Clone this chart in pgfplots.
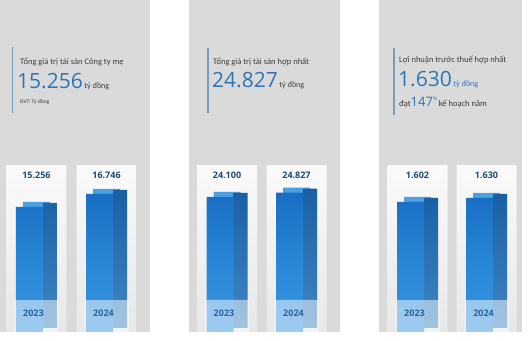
\documentclass[border=0pt]{standalone}
\usepackage{pgfplots}
\usepackage{pgfplotstable}
\pgfplotsset{compat=1.18}
\usepackage{fontspec}
\setmainfont{Open Sans}
\newfontfamily\cf{Carlito}
\definecolor{panel}{RGB}{218,218,218}
\definecolor{numblue}{RGB}{46,117,182}
\definecolor{titlegray}{RGB}{60,60,60}
\definecolor{vline}{RGB}{120,155,190}
\definecolor{valblue}{RGB}{30,75,120}
\definecolor{yearblue}{RGB}{40,100,160}
\definecolor{fronttop}{RGB}{25,110,195}
\definecolor{frontmid}{RGB}{40,135,215}
\definecolor{frontbot}{RGB}{60,150,225}
\definecolor{sidetop}{RGB}{25,95,165}
\definecolor{sidebot}{RGB}{65,135,195}
\definecolor{captop}{RGB}{75,160,225}
\definecolor{cardtop}{RGB}{250,250,250}
\definecolor{cardbot}{RGB}{232,232,232}

\pgfplotsset{
 panel/.style={scale only axis, height=332pt, anchor=south west,
   axis background/.style={fill=panel}, axis on top=true,
   axis line style={draw=none}, major tick length=0pt, ytick=\empty,
   xtick={0,1}, xticklabels={\textbf{2023},\textbf{2024}},
   xticklabel style={yshift=26pt, xshift=-3pt, text=yearblue, font=\fontsize{9}{10}\selectfont},
   clip=true},
 card/.style={ybar, bar width=60pt, bar shift=0pt, draw=none, top color=cardtop, bottom color=cardbot,
   nodes near coords, point meta=explicit symbolic,
   nodes near coords style={anchor=north, yshift=-3pt, text=valblue, font=\fontsize{9}{10}\selectfont\bfseries}},
 cap/.style={ybar, bar width=27pt, bar shift=0pt, draw=none, fill=captop, yshift=5pt},
 side/.style={ybar, bar width=14pt, bar shift=13.5pt, draw=none, top color=sidetop, bottom color=sidebot, yshift=4pt},
 front/.style={ybar, bar width=27pt, bar shift=-7pt, draw=none, top color=fronttop, bottom color=frontbot, middle color=frontmid},
 refl/.style={ybar, bar width=44pt, bar shift=0pt, draw=none, fill=white, fill opacity=0.5},
}

\pgfplotstableread{
x val card base lab
0 15256 20060 4570 15.256
1 16746 20060 4570 16.746
}\tA
\pgfplotstableread{
x val card base lab
0 24100 29300 7316 24.100
1 24827 29300 7316 24.827
}\tB
\pgfplotstableread{
x val card base lab
0 1602 1850 942 1.602
1 1630 1850 942 1.630
}\tC

\begin{document}
\begin{tikzpicture}
\useasboundingbox (0,0) rectangle (530pt,340pt);
% panel 1
\begin{axis}[panel, at={(0pt,8pt)}, width=150pt, xmin=-0.521, xmax=1.621, ymin=900, ymax=39000]
\addplot[card] table[x=x, y=card, meta=lab] {\tA};
\addplot[cap] table[x=x, y=val] {\tA};
\addplot[side] table[x=x, y=val] {\tA};
\addplot[front] table[x=x, y=val] {\tA};
\addplot[refl] table[x=x, y=base] {\tA};
\end{axis}
% panel 2
\begin{axis}[panel, at={(189pt,8pt)}, width=151pt, xmin=-0.547, xmax=1.626, ymin=2100, ymax=56200]
\addplot[card] table[x=x, y=card, meta=lab] {\tB};
\addplot[cap] table[x=x, y=val] {\tB};
\addplot[side] table[x=x, y=val] {\tB};
\addplot[front] table[x=x, y=val] {\tB};
\addplot[refl] table[x=x, y=base] {\tB};
\end{axis}
% panel 3
\begin{axis}[panel, at={(379pt,8pt)}, width=143pt, xmin=-0.558, xmax=1.514, ymin=727, ymax=2961]
\addplot[card] table[x=x, y=card, meta=lab] {\tC};
\addplot[cap] table[x=x, y=val] {\tC};
\addplot[side] table[x=x, y=val] {\tC};
\addplot[front] table[x=x, y=val] {\tC};
\addplot[refl] table[x=x, y=base] {\tC};
\end{axis}
% headers
\draw[vline, line width=1.3pt] (12.5pt,293pt) -- (12.5pt,227pt);
\node[anchor=west, inner sep=0pt, text=titlegray, font=\cf\fontsize{8.5}{10}\selectfont] at (20pt,278pt) {Tổng giá trị tài sản Công ty mẹ};
\node[anchor=base west, inner sep=0pt, text=numblue] at (17pt,251pt) {{\fontsize{21}{22}\selectfont 15.256}\,{\cf\fontsize{8}{9}\selectfont\color{titlegray} tỷ đồng}};
\node[anchor=west, inner sep=0pt, text=titlegray, font=\cf\fontsize{5.5}{6}\selectfont] at (20pt,238pt) {ĐVT: Tỷ đồng};

\draw[vline, line width=1.3pt] (208pt,292pt) -- (208pt,227pt);
\node[anchor=west, inner sep=0pt, text=titlegray, font=\cf\fontsize{8.5}{10}\selectfont] at (213pt,278pt) {Tổng giá trị tài sản hợp nhất};
\node[anchor=base west, inner sep=0pt, text=numblue] at (212pt,252pt) {{\fontsize{21}{22}\selectfont 24.827}\,{\cf\fontsize{8}{9}\selectfont\color{titlegray} tỷ đồng}};

\draw[vline, line width=1.3pt] (394pt,292pt) -- (394pt,225pt);
\node[anchor=west, inner sep=0pt, text=titlegray, font=\cf\fontsize{8.5}{10}\selectfont] at (399pt,280pt) {Lợi nhuận trước thuế hợp nhất};
\node[anchor=base west, inner sep=0pt, text=numblue] at (398pt,253pt) {{\fontsize{21}{22}\selectfont 1.630}\,{\cf\fontsize{8}{9}\selectfont tỷ đồng}};
\node[anchor=base west, inner sep=0pt, text=titlegray] at (399pt,233pt) {{\cf\fontsize{8.5}{9}\selectfont đạt}{\color{numblue}\fontsize{13}{14}\selectfont 147}\raisebox{6pt}{\color{numblue}\fontsize{5}{6}\selectfont\%}\,{\cf\fontsize{8.5}{9}\selectfont kế hoạch năm}};
\end{tikzpicture}
\end{document}
